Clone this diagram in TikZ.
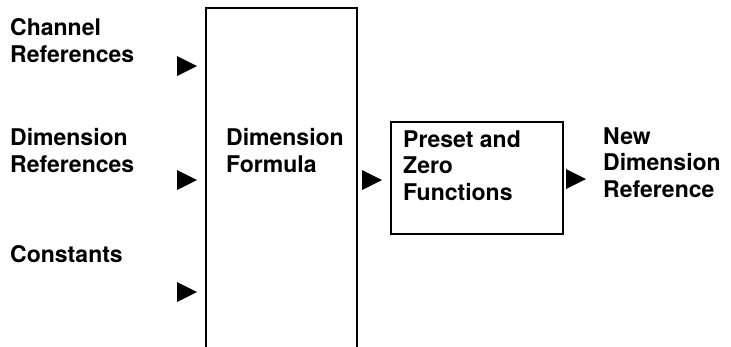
\documentclass[tikz,border=0pt]{standalone}
\usepackage{fontspec}
\setmainfont{TeX Gyre Heros}
\usepackage{tikz}
\usetikzlibrary{positioning}

\begin{document}
\begin{tikzpicture}[x=1pt, y=-1pt,
    label/.style={anchor=base west, align=left, inner sep=0pt,
                  font=\fontsize{23}{26.5}\selectfont\bfseries},
    block/.style={rectangle, draw=black, line width=2pt, anchor=north west,
                  inner sep=0pt},
    tri/.pic={\fill[black] (-10,-10) -- (10,0) -- (-10,10) -- cycle;}
]
    \useasboundingbox (0,0) rectangle (731,346);

    % input labels (placed at the baseline of their last line)
    \node[label] (chan)  at (10,62)  {Channel\\References};
    \node[label] (dimref) at (10,172) {Dimension\\References};
    \node[label] (const) at (10,262) {Constants};

    % formula block, open at the bottom
    \node[block, minimum width=151pt, minimum height=380pt] (formula) at (205,7) {};
    \node[label] (formtxt) at (226,172) {Dimension\\Formula};

    % preset block
    \node[block, minimum width=172pt, minimum height=112pt] (preset) at (390,121) {};
    \node[label] (presettxt) at (403,200) {Preset and\\Zero\\Functions};

    % output label
    \node[label] (newref) at (603,197) {New\\Dimension\\Reference};

    % arrow marks
    \pic at (187,66)  {tri};
    \pic at (187,180) {tri};
    \pic at (187,292) {tri};
    \pic at (372,180) {tri};
    \pic at (576,179) {tri};
\end{tikzpicture}
\end{document}
